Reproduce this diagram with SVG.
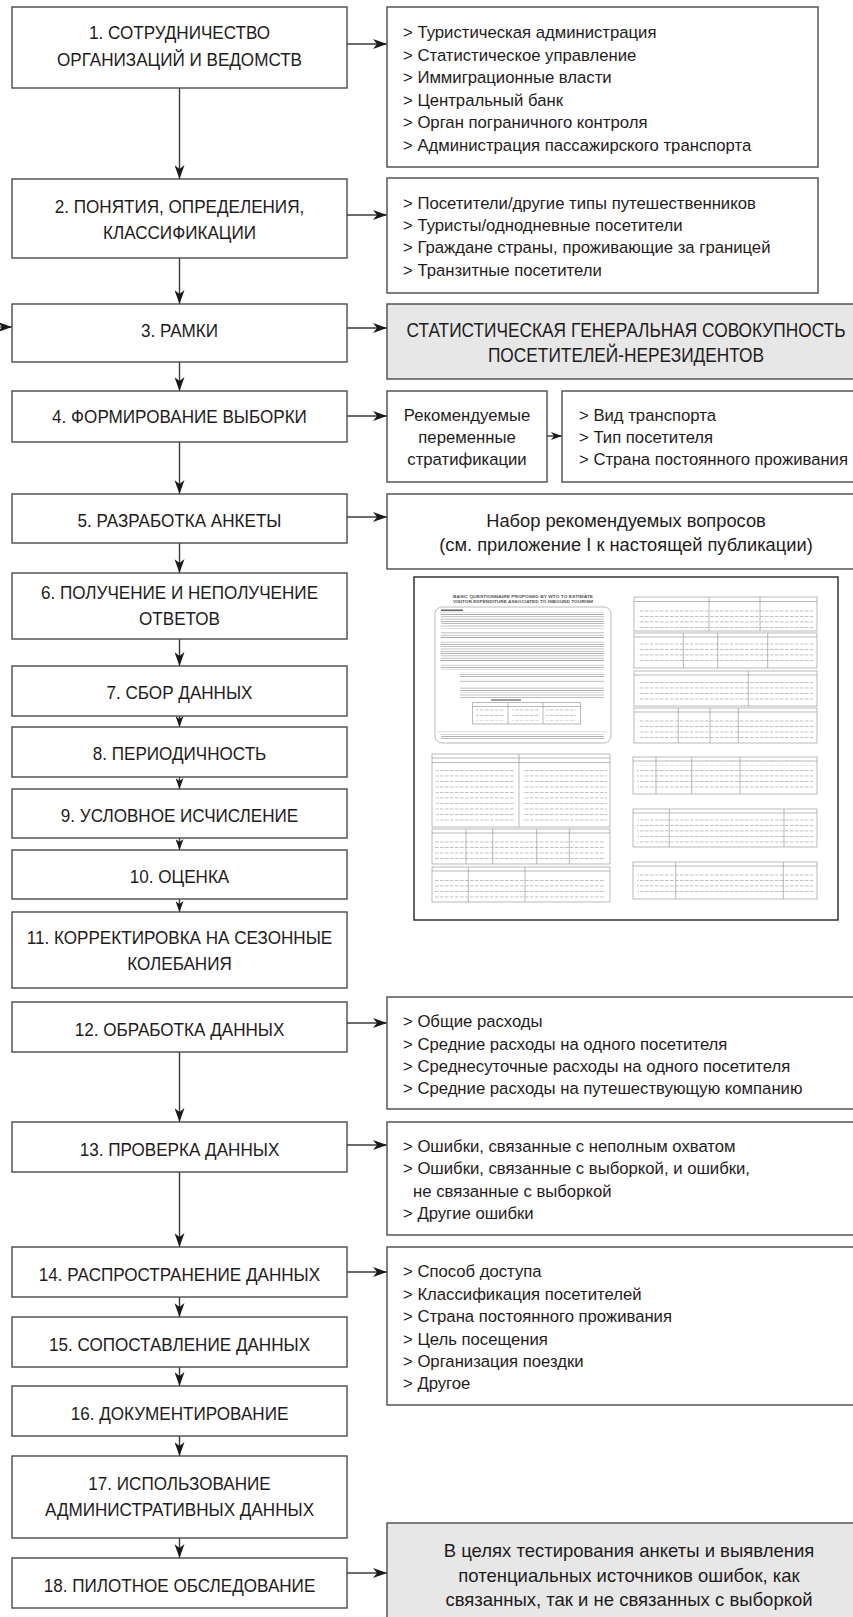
<svg xmlns="http://www.w3.org/2000/svg" width="853" height="1617" viewBox="0 0 853 1617">
<style>
.box{fill:#fff;stroke:#4a4a4a;stroke-width:1.4}
.grey{fill:#e7e7e7;stroke:#4a4a4a;stroke-width:1.4}
.t{font-family:"Liberation Sans",Arial,sans-serif;fill:#1f1b1c}
.m{font-size:19px;text-anchor:middle}
.l{font-size:16.7px}
.c{text-anchor:middle}
.conn line{stroke:#3a3a3a;stroke-width:1.4}
.q{fill:none;stroke:#8a8a8a;stroke-width:0.6}
.qo{fill:#fff;stroke:#333;stroke-width:1.5}
.qt{font-family:"Liberation Sans",Arial,sans-serif;font-weight:bold;font-size:4.3px;fill:#555;text-anchor:middle}
</style>
<defs>
<marker id="ah" markerUnits="userSpaceOnUse" markerWidth="14" markerHeight="10" refX="14" refY="5" orient="auto" viewBox="0 0 14 10"><path d="M0,0 L14,5 L0,10 L4,5 z" fill="#1a1a1a"/></marker>
<marker id="ahs" markerUnits="userSpaceOnUse" markerWidth="11" markerHeight="8" refX="11" refY="4" orient="auto" viewBox="0 0 11 8"><path d="M0,0 L11,4 L0,8 L3,4 z" fill="#1a1a1a"/></marker>
<pattern id="tl" width="5" height="2.3" patternUnits="userSpaceOnUse"><rect width="5" height="0.6" fill="#8c8c8c"/></pattern>
<pattern id="tl2" width="5" height="5.5" patternUnits="userSpaceOnUse"><rect width="3.6" height="0.6" fill="#9a9a9a"/></pattern>
</defs>

<g id="connectors" class="conn">
<line x1="347" y1="44" x2="387" y2="44" marker-end="url(#ah)"/>
<line x1="347" y1="215" x2="387" y2="215" marker-end="url(#ah)"/>
<line x1="347" y1="328" x2="387" y2="328" marker-end="url(#ah)"/>
<line x1="0" y1="327" x2="12" y2="327" marker-end="url(#ah)"/>
<line x1="347" y1="416" x2="387" y2="416" marker-end="url(#ah)"/>
<line x1="547" y1="436" x2="562" y2="436" marker-end="url(#ahs)"/>
<line x1="347" y1="517" x2="387" y2="517" marker-end="url(#ah)"/>
<line x1="347" y1="1023" x2="387" y2="1023" marker-end="url(#ah)"/>
<line x1="347" y1="1145" x2="387" y2="1145" marker-end="url(#ah)"/>
<line x1="347" y1="1272" x2="387" y2="1272" marker-end="url(#ah)"/>
<line x1="347" y1="1573" x2="387" y2="1573" marker-end="url(#ah)"/>
<line x1="179.5" y1="88" x2="179.5" y2="179" marker-end="url(#ah)"/>
<line x1="179.5" y1="258" x2="179.5" y2="304" marker-end="url(#ah)"/>
<line x1="179.5" y1="362" x2="179.5" y2="391" marker-end="url(#ah)"/>
<line x1="179.5" y1="442" x2="179.5" y2="494" marker-end="url(#ah)"/>
<line x1="179.5" y1="543" x2="179.5" y2="573" marker-end="url(#ah)"/>
<line x1="179.5" y1="639" x2="179.5" y2="666" marker-end="url(#ah)"/>
<line x1="179.5" y1="716" x2="179.5" y2="727" marker-end="url(#ahs)"/>
<line x1="179.5" y1="777" x2="179.5" y2="789" marker-end="url(#ahs)"/>
<line x1="179.5" y1="838" x2="179.5" y2="850" marker-end="url(#ahs)"/>
<line x1="179.5" y1="899" x2="179.5" y2="912" marker-end="url(#ahs)"/>
<line x1="179.5" y1="1052" x2="179.5" y2="1122" marker-end="url(#ah)"/>
<line x1="179.5" y1="1172" x2="179.5" y2="1247" marker-end="url(#ah)"/>
<line x1="179.5" y1="1297" x2="179.5" y2="1317" marker-end="url(#ah)"/>
<line x1="179.5" y1="1367" x2="179.5" y2="1386" marker-end="url(#ah)"/>
<line x1="179.5" y1="1436" x2="179.5" y2="1456" marker-end="url(#ah)"/>
<line x1="179.5" y1="1538" x2="179.5" y2="1558" marker-end="url(#ah)"/>
</g>

<g id="n1"><rect class="box" x="12" y="7" width="335" height="81"/><g transform="translate(179.5 0) scale(0.9 1)"><text class="t m" x="0" y="39.5">1. СОТРУДНИЧЕСТВО</text><text class="t m" x="0" y="66.5">ОРГАНИЗАЦИЙ И ВЕДОМСТВ</text></g></g>
<g id="n2"><rect class="box" x="12" y="179" width="335" height="79"/><g transform="translate(179.5 0) scale(0.9 1)"><text class="t m" x="0" y="213">2. ПОНЯТИЯ, ОПРЕДЕЛЕНИЯ,</text><text class="t m" x="0" y="239.5">КЛАССИФИКАЦИИ</text></g></g>
<g id="n3"><rect class="box" x="12" y="304" width="335" height="58"/><g transform="translate(179.5 0) scale(0.9 1)"><text class="t m" x="0" y="337.3">3. РАМКИ</text></g></g>
<g id="n4"><rect class="box" x="12" y="391" width="335" height="51"/><g transform="translate(179.5 0) scale(0.9 1)"><text class="t m" x="0" y="423.3">4. ФОРМИРОВАНИЕ ВЫБОРКИ</text></g></g>
<g id="n5"><rect class="box" x="12" y="494" width="335" height="49"/><g transform="translate(179.5 0) scale(0.9 1)"><text class="t m" x="0" y="527.3">5. РАЗРАБОТКА АНКЕТЫ</text></g></g>
<g id="n6"><rect class="box" x="12" y="573" width="335" height="66"/><g transform="translate(179.5 0) scale(0.9 1)"><text class="t m" x="0" y="599.5">6. ПОЛУЧЕНИЕ И НЕПОЛУЧЕНИЕ</text><text class="t m" x="0" y="625">ОТВЕТОВ</text></g></g>
<g id="n7"><rect class="box" x="12" y="666" width="335" height="50"/><g transform="translate(179.5 0) scale(0.9 1)"><text class="t m" x="0" y="699.3">7. СБОР ДАННЫХ</text></g></g>
<g id="n8"><rect class="box" x="12" y="727" width="335" height="50"/><g transform="translate(179.5 0) scale(0.9 1)"><text class="t m" x="0" y="760">8. ПЕРИОДИЧНОСТЬ</text></g></g>
<g id="n9"><rect class="box" x="12" y="789" width="335" height="49"/><g transform="translate(179.5 0) scale(0.9 1)"><text class="t m" x="0" y="821.7">9. УСЛОВНОЕ ИСЧИСЛЕНИЕ</text></g></g>
<g id="n10"><rect class="box" x="12" y="850" width="335" height="49"/><g transform="translate(179.5 0) scale(0.9 1)"><text class="t m" x="0" y="883.3">10. ОЦЕНКА</text></g></g>
<g id="n11"><rect class="box" x="12" y="912" width="335" height="76"/><g transform="translate(179.5 0) scale(0.9 1)"><text class="t m" x="0" y="944.5">11. КОРРЕКТИРОВКА НА СЕЗОННЫЕ</text><text class="t m" x="0" y="970.5">КОЛЕБАНИЯ</text></g></g>
<g id="n12"><rect class="box" x="12" y="1002" width="335" height="50"/><g transform="translate(179.5 0) scale(0.9 1)"><text class="t m" x="0" y="1035.7">12. ОБРАБОТКА ДАННЫХ</text></g></g>
<g id="n13"><rect class="box" x="12" y="1122" width="335" height="50"/><g transform="translate(179.5 0) scale(0.9 1)"><text class="t m" x="0" y="1155.7">13. ПРОВЕРКА ДАННЫХ</text></g></g>
<g id="n14"><rect class="box" x="12" y="1247" width="335" height="50"/><g transform="translate(179.5 0) scale(0.9 1)"><text class="t m" x="0" y="1280.7">14. РАСПРОСТРАНЕНИЕ ДАННЫХ</text></g></g>
<g id="n15"><rect class="box" x="12" y="1317" width="335" height="50"/><g transform="translate(179.5 0) scale(0.9 1)"><text class="t m" x="0" y="1350.7">15. СОПОСТАВЛЕНИЕ ДАННЫХ</text></g></g>
<g id="n16"><rect class="box" x="12" y="1386" width="335" height="50"/><g transform="translate(179.5 0) scale(0.9 1)"><text class="t m" x="0" y="1419.7">16. ДОКУМЕНТИРОВАНИЕ</text></g></g>
<g id="n17"><rect class="box" x="12" y="1456" width="335" height="82"/><g transform="translate(179.5 0) scale(0.9 1)"><text class="t m" x="0" y="1490.5">17. ИСПОЛЬЗОВАНИЕ</text><text class="t m" x="0" y="1516.5">АДМИНИСТРАТИВНЫХ ДАННЫХ</text></g></g>
<g id="n18"><rect class="box" x="12" y="1558" width="335" height="50"/><g transform="translate(179.5 0) scale(0.9 1)"><text class="t m" x="0" y="1591.7">18. ПИЛОТНОЕ ОБСЛЕДОВАНИЕ</text></g></g>

<g id="r1"><rect class="box" x="387" y="7" width="431" height="160"/>
<text class="t l" x="403" y="38">&gt; Туристическая администрация</text>
<text class="t l" x="403" y="60.5">&gt; Статистическое управление</text>
<text class="t l" x="403" y="83">&gt; Иммиграционные власти</text>
<text class="t l" x="403" y="105.5">&gt; Центральный банк</text>
<text class="t l" x="403" y="128">&gt; Орган пограничного контроля</text>
<text class="t l" x="403" y="150.5">&gt; Администрация пассажирского транспорта</text></g>
<g id="r2"><rect class="box" x="387" y="178" width="431" height="115"/>
<text class="t l" x="403" y="208.5">&gt; Посетители/другие типы путешественников</text>
<text class="t l" x="403" y="231">&gt; Туристы/однодневные посетители</text>
<text class="t l" x="403" y="253.3">&gt; Граждане страны, проживающие за границей</text>
<text class="t l" x="403" y="275.5">&gt; Транзитные посетители</text></g>
<g id="r3"><rect class="grey" x="387" y="304" width="490" height="75"/>
<g transform="translate(626 0) scale(0.865 1)">
<text class="t c" x="0" y="337" font-size="20">СТАТИСТИЧЕСКАЯ ГЕНЕРАЛЬНАЯ СОВОКУПНОСТЬ</text>
<text class="t c" x="0" y="362" font-size="20">ПОСЕТИТЕЛЕЙ-НЕРЕЗИДЕНТОВ</text></g></g>
<g id="r4a"><rect class="box" x="387" y="391" width="160" height="91"/>
<text class="t l c" x="467" y="421">Рекомендуемые</text>
<text class="t l c" x="467" y="443">переменные</text>
<text class="t l c" x="467" y="465">стратификации</text></g>
<g id="r4b"><rect class="box" x="562" y="391" width="310" height="91"/>
<text class="t l" x="579" y="421">&gt; Вид транспорта</text>
<text class="t l" x="579" y="443">&gt; Тип посетителя</text>
<text class="t l" x="579" y="465">&gt; Страна постоянного проживания</text></g>
<g id="r5"><rect class="box" x="387" y="494" width="490" height="75"/>
<text class="t c" x="626" y="527" font-size="18.3">Набор рекомендуемых вопросов</text>
<text class="t c" x="626" y="551" font-size="18.3">(см. приложение I к настоящей публикации)</text></g>

<g id="questionnaire">
<rect class="qo" x="414" y="577" width="424" height="343"/>
<text class="qt" x="523" y="598.3" textLength="140" lengthAdjust="spacingAndGlyphs">BASIC QUESTIONNAIRE PROPOSED BY WTO TO ESTIMATE</text>
<text class="qt" x="523" y="602.8" textLength="140" lengthAdjust="spacingAndGlyphs">VISITOR EXPENDITURE ASSOCIATED TO INBOUND TOURISM</text>
<rect class="q" x="435" y="607" width="176" height="136" rx="7"/>
<rect x="441" y="609.5" width="22" height="1.6" fill="#666"/>
<rect x="441" y="612.5" width="163" height="16" fill="url(#tl)"/>
<rect x="441" y="631.5" width="163" height="7.5" fill="url(#tl)"/>
<rect x="441" y="641.5" width="163" height="19.5" fill="url(#tl)"/>
<rect x="441" y="664.5" width="163" height="5" fill="url(#tl)"/>
<rect x="460" y="672.5" width="144" height="5" fill="url(#tl)"/>
<rect x="460" y="679.5" width="144" height="3" fill="url(#tl)"/>
<rect x="460" y="686" width="144" height="5" fill="url(#tl)"/>
<rect x="460" y="692.5" width="144" height="6" fill="url(#tl)"/>
<rect x="491" y="699.3" width="30" height="1.4" fill="#777"/>
<rect class="q" x="472.7" y="702.7" width="108" height="21.3"/>
<line class="q" x1="508" y1="702.7" x2="508" y2="724"/>
<line class="q" x1="543" y1="702.7" x2="543" y2="724"/>
<line class="q" x1="472.7" y1="706.5" x2="580.7" y2="706.5"/>
<rect x="476" y="709" width="28" height="12" fill="url(#tl2)"/>
<rect x="512" y="709" width="28" height="12" fill="url(#tl2)"/>
<rect x="546" y="709" width="30" height="12" fill="url(#tl2)"/>
<rect x="437" y="731.5" width="170" height="1.5" fill="url(#tl)"/>
<rect x="441" y="734" width="163" height="5" fill="url(#tl)"/>

<rect class="q" x="432" y="754" width="178" height="73"/>
<line class="q" x1="519" y1="754" x2="519" y2="827"/>
<line class="q" x1="432" y1="758" x2="610" y2="758"/>
<line class="q" x1="432" y1="762.5" x2="610" y2="762.5"/>
<rect x="436" y="766" width="79" height="58" fill="url(#tl2)"/>
<rect x="523" y="766" width="84" height="58" fill="url(#tl2)"/>
<rect class="q" x="432" y="829" width="178" height="35"/>
<line class="q" x1="466" y1="829" x2="466" y2="864"/>
<line class="q" x1="492.7" y1="829" x2="492.7" y2="864"/>
<line class="q" x1="536.7" y1="829" x2="536.7" y2="864"/>
<line class="q" x1="569.3" y1="829" x2="569.3" y2="864"/>
<line class="q" x1="432" y1="833" x2="610" y2="833"/>
<rect x="435" y="838" width="170" height="22" fill="url(#tl2)"/>
<rect class="q" x="432" y="867" width="178" height="35"/>
<line class="q" x1="468.3" y1="867" x2="468.3" y2="902"/>
<line class="q" x1="525" y1="867" x2="525" y2="902"/>
<line class="q" x1="432" y1="871" x2="610" y2="871"/>
<rect x="435" y="876" width="170" height="22" fill="url(#tl2)"/>

<rect class="q" x="634" y="597" width="183" height="34"/>
<line class="q" x1="709" y1="597" x2="709" y2="631"/>
<line class="q" x1="760" y1="597" x2="760" y2="631"/>
<line class="q" x1="634" y1="601.5" x2="817" y2="601.5"/>
<rect x="638" y="606" width="175" height="22" fill="url(#tl2)"/>
<rect class="q" x="634" y="633" width="183" height="35"/>
<line class="q" x1="683.3" y1="633" x2="683.3" y2="668"/>
<line class="q" x1="717.7" y1="633" x2="717.7" y2="668"/>
<line class="q" x1="767.7" y1="633" x2="767.7" y2="668"/>
<line class="q" x1="634" y1="637" x2="817" y2="637"/>
<rect x="638" y="641" width="175" height="24" fill="url(#tl2)"/>
<rect class="q" x="634" y="671" width="183" height="35"/>
<line class="q" x1="748.3" y1="671" x2="748.3" y2="706"/>
<line class="q" x1="634" y1="675" x2="817" y2="675"/>
<rect x="638" y="679" width="175" height="24" fill="url(#tl2)"/>
<rect class="q" x="634" y="708" width="183" height="35"/>
<line class="q" x1="678.3" y1="708" x2="678.3" y2="743"/>
<line class="q" x1="710" y1="708" x2="710" y2="743"/>
<line class="q" x1="738.3" y1="708" x2="738.3" y2="743"/>
<line class="q" x1="634" y1="712" x2="817" y2="712"/>
<rect x="638" y="716" width="175" height="24" fill="url(#tl2)"/>
<rect class="q" x="633" y="757" width="184" height="37"/>
<line class="q" x1="656" y1="757" x2="656" y2="794"/>
<line class="q" x1="691.7" y1="757" x2="691.7" y2="794"/>
<line class="q" x1="740" y1="757" x2="740" y2="794"/>
<line class="q" x1="633" y1="761" x2="817" y2="761"/>
<rect x="637" y="765" width="176" height="26" fill="url(#tl2)"/>
<rect class="q" x="633" y="809" width="184" height="38"/>
<line class="q" x1="669.3" y1="809" x2="669.3" y2="847"/>
<line class="q" x1="784" y1="809" x2="784" y2="847"/>
<line class="q" x1="633" y1="813" x2="817" y2="813"/>
<rect x="637" y="817" width="176" height="27" fill="url(#tl2)"/>
<rect class="q" x="633" y="862" width="184" height="37"/>
<line class="q" x1="675.7" y1="862" x2="675.7" y2="899"/>
<line class="q" x1="783.3" y1="862" x2="783.3" y2="899"/>
<line class="q" x1="633" y1="866" x2="817" y2="866"/>
<rect x="637" y="870" width="176" height="26" fill="url(#tl2)"/>
</g>

<g id="r12"><rect class="box" x="387" y="997" width="490" height="112"/>
<text class="t l" x="403" y="1027.3">&gt; Общие расходы</text>
<text class="t l" x="403" y="1049.5">&gt; Средние расходы на одного посетителя</text>
<text class="t l" x="403" y="1071.7">&gt; Среднесуточные расходы на одного посетителя</text>
<text class="t l" x="403" y="1094">&gt; Средние расходы на путешествующую компанию</text></g>
<g id="r13"><rect class="box" x="387" y="1122" width="490" height="113"/>
<text class="t l" x="403" y="1152">&gt; Ошибки, связанные с неполным охватом</text>
<text class="t l" x="403" y="1174">&gt; Ошибки, связанные с выборкой, и ошибки,</text>
<text class="t l" x="413" y="1196.5">не связанные с выборкой</text>
<text class="t l" x="403" y="1218.5">&gt; Другие ошибки</text></g>
<g id="r14"><rect class="box" x="387" y="1247" width="490" height="158"/>
<text class="t l" x="403" y="1277.3">&gt; Способ доступа</text>
<text class="t l" x="403" y="1299.6">&gt; Классификация посетителей</text>
<text class="t l" x="403" y="1322">&gt; Страна постоянного проживания</text>
<text class="t l" x="403" y="1344.5">&gt; Цель посещения</text>
<text class="t l" x="403" y="1367">&gt; Организация поездки</text>
<text class="t l" x="403" y="1389">&gt; Другое</text></g>
<g id="r18"><rect class="grey" x="387" y="1523" width="490" height="110"/>
<text class="t c" x="629" y="1557.3" font-size="18.5">В целях тестирования анкеты и выявления</text>
<text class="t c" x="629" y="1581.7" font-size="18.5">потенциальных источников ошибок, как</text>
<text class="t c" x="629" y="1606" font-size="18.5">связанных, так и не связанных с выборкой</text></g>
</svg>
